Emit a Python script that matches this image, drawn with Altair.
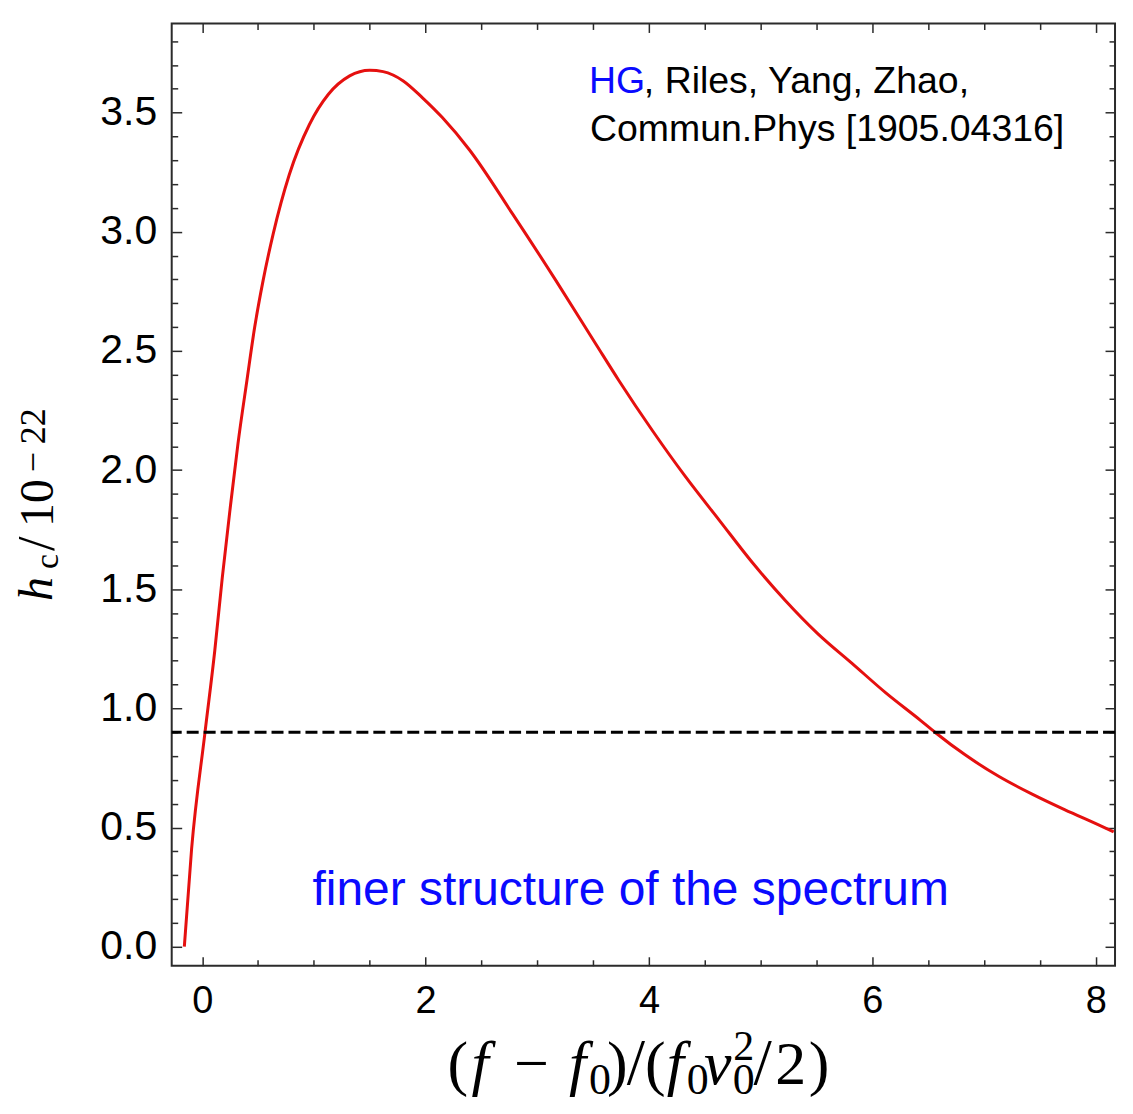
import altair as alt
import pandas as pd

# ---- data ----
x_vals = [-0.16, -0.095, 0.024, 0.113, 0.18, 0.248, 0.32, 0.40, 0.47, 0.545, 0.635,
          0.78, 0.96, 1.13, 1.32, 1.50, 1.62, 1.80, 1.97, 2.15, 2.39, 2.78, 3.167,
          3.525, 3.73, 4.03, 4.33, 4.63, 4.925, 5.22, 5.51, 5.82, 6.12, 6.43, 6.56,
          6.83, 7.13, 7.43, 7.72, 8.02, 8.16]
hc_vals = [0.0, 0.41, 0.895, 1.244, 1.55, 1.83, 2.11, 2.375, 2.60, 2.795, 2.99,
           3.24, 3.45, 3.577, 3.654, 3.678, 3.672, 3.633, 3.563, 3.479, 3.345, 3.074, 2.795,
           2.528, 2.376, 2.166, 1.97, 1.789, 1.612, 1.453, 1.314, 1.188, 1.065, 0.950, 0.900,
           0.805, 0.715, 0.640, 0.575, 0.512, 0.482]
threshold = [0.9]

x_major = [0, 2, 4, 6, 8]
x_minor = [0.5, 1, 1.5, 2.5, 3, 3.5, 4.5, 5, 5.5, 6.5, 7, 7.5]
y_major = [0.0, 0.5, 1.0, 1.5, 2.0, 2.5, 3.0, 3.5]
y_minor = [0.1, 0.2, 0.3, 0.4, 0.6, 0.7, 0.8, 0.9, 1.1, 1.2, 1.3, 1.4, 1.6, 1.7, 1.8, 1.9,
           2.1, 2.2, 2.3, 2.4, 2.6, 2.7, 2.8, 2.9, 3.1, 3.2, 3.3, 3.4, 3.6, 3.7, 3.8]

df = pd.DataFrame({"x": x_vals, "hc": hc_vals})
thr_df = pd.DataFrame({"thr": threshold})
one = pd.DataFrame({"k": [0]})

# ---- layout ----
W, H = 945, 944
OX, OY = 172, 22.5  # plot origin in page pixels
RED = "#e5100f"
BLUE = "#0a0aff"
FRAME = "#2b2b2b"

xs = alt.Scale(domain=[-0.273, 8.172], nice=False, zero=False)
ys = alt.Scale(domain=[-0.08, 3.874], nice=False, zero=False)

common = dict(grid=False, domain=False, title=None, tickColor=FRAME, tickWidth=1.5)


def xaxis(orient, values, size, labels):
    kw = dict(common)
    if labels:
        kw.update(labelFont="Liberation Sans", labelFontSize=38, labelColor="black",
                  labelPadding=17, format="d")
    else:
        kw.update(labels=False)
    return alt.Axis(orient=orient, values=values, tickSize=size, offset=-size, **kw)


def yaxis(orient, values, size, labels):
    kw = dict(common)
    if labels:
        kw.update(labelFont="Liberation Sans", labelFontSize=41, labelColor="black",
                  labelPadding=15, format=".1f")
    else:
        kw.update(labels=False)
    return alt.Axis(orient=orient, values=values, tickSize=size, offset=-size, **kw)


curve = alt.Chart(df).mark_line(color=RED, strokeWidth=3, interpolate="monotone").encode(
    x=alt.X("x:Q", scale=xs, axis=xaxis("bottom", x_major, 9, True)),
    y=alt.Y("hc:Q", scale=ys, axis=yaxis("left", y_major, 10, True)),
)
minor_bl = alt.Chart(df).mark_line(opacity=0).encode(
    x=alt.X("x:Q", scale=xs, axis=xaxis("bottom", x_minor, 6, False)),
    y=alt.Y("hc:Q", scale=ys, axis=yaxis("left", y_minor, 6, False)),
)
major_tr = alt.Chart(df).mark_line(opacity=0).encode(
    x=alt.X("x:Q", scale=xs, axis=xaxis("top", x_major, 9, False)),
    y=alt.Y("hc:Q", scale=ys, axis=yaxis("right", y_major, 10, False)),
)
minor_tr = alt.Chart(df).mark_line(opacity=0).encode(
    x=alt.X("x:Q", scale=xs, axis=xaxis("top", x_minor, 6, False)),
    y=alt.Y("hc:Q", scale=ys, axis=yaxis("right", y_minor, 6, False)),
)
rule = alt.Chart(thr_df).mark_rule(color="black", strokeWidth=3, strokeDash=[12, 5]).encode(
    y=alt.Y("thr:Q", scale=ys, axis=None)
)


def txt(text, px, py, size, font, color="black", style="normal", align="left", angle=0):
    kw = dict(align=align, baseline="alphabetic", fontSize=size, font=font,
              color=color, fontStyle=style)
    if angle:
        kw["angle"] = angle
    return alt.Chart(one).mark_text(**kw).encode(
        x=alt.value(px - OX), y=alt.value(py - OY), text=alt.value(text)
    )


texts = []
# annotations
texts.append(txt("HG", 590, 92, 37.5, "Liberation Sans", BLUE))
texts.append(txt(", Riles, Yang, Zhao,", 645, 92, 37.5, "Liberation Sans"))
texts.append(txt("Commun.Phys [1905.04316]", 591, 140, 37.5, "Liberation Sans"))
texts.append(txt("finer structure of the spectrum", 313, 906, 48, "Liberation Sans", BLUE))

# y title: h_c / 10^-22 (rotated)
y_title = [("h", 52, 601, 48, "italic"), ("c", 58, 569, 34, "normal"),
           ("/", 54, 551, 52, "normal"), ("10", 53, 527, 48, "normal"),
           ("\u2212", 45, 472, 36, "normal"), ("22", 45, 444, 36, "normal")]
for t, px, py, s, st in y_title:
    texts.append(txt(t, px, py, s, "Liberation Serif", style=st, angle=270))

# x title: (f - f0)/(f0 v0^2/2)
x_title = [("(", 458.5, 1085, 62, "normal"), ("f", 481, 1085, 62, "italic"),
           ("\u2212", 532.5, 1085, 62, "normal"), ("f", 578.5, 1085, 62, "italic"),
           ("0", 601, 1095, 44, "normal"), (")", 618.5, 1085, 62, "normal"),
           ("/", 637, 1085, 66, "normal"), ("(", 656.5, 1085, 62, "normal"),
           ("f", 676.5, 1085, 62, "italic"), ("0", 699, 1095, 44, "normal"),
           ("v", 719, 1085, 62, "italic"), ("2", 745, 1061, 42, "normal"),
           ("0", 745, 1095, 44, "normal"), ("/", 764, 1085, 66, "normal"),
           ("2", 792, 1085, 62, "normal"), (")", 820.5, 1085, 62, "normal")]
for t, px, py, s, st in x_title:
    texts.append(txt(t, px, py, s, "Liberation Serif", style=st, align="center"))

chart = alt.layer(curve, minor_bl, major_tr, minor_tr, rule, *texts).resolve_scale(
    x="shared", y="shared"
).resolve_axis(
    x="independent", y="independent"
).properties(
    width=W, height=H,
    autosize=alt.AutoSizeParams(type="none"),
    padding={"left": 164, "top": 14.5, "right": 10, "bottom": 134},
    background="white",
).configure_view(stroke=FRAME, strokeWidth=2)

chart.save("out.html", embed_options={"renderer": "svg", "actions": False})
